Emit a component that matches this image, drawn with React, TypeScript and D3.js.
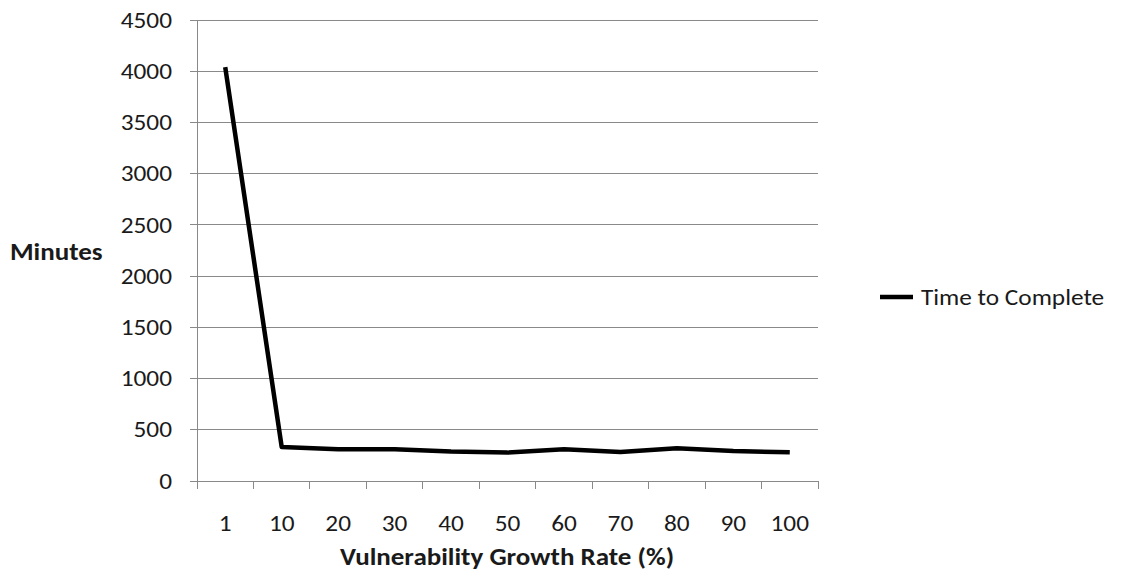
import React, { useEffect, useRef } from 'react'
import * as d3 from 'd3'

const categories = ['1', '10', '20', '30', '40', '50', '60', '70', '80', '90', '100']
const timeToComplete = [4040, 333, 310, 310, 287, 277, 310, 283, 320, 293, 280]
const yTicks = [0, 500, 1000, 1500, 2000, 2500, 3000, 3500, 4000, 4500]
const seriesName = 'Time to Complete'

export default function App() {
  const ref = useRef<SVGSVGElement>(null)

  useEffect(() => {
    const svg = d3.select(ref.current)
    svg.selectAll('*').remove()
    const font = 'Calibri, Carlito, "Open Sans", sans-serif'
    const left = 197, right = 818, top = 20, bottom = 481
    const sx = 1.15 // reference text is a bit wide

    const x = d3.scaleBand().domain(categories).range([left, right])
    const y = d3.scaleLinear().domain([0, 4500]).range([bottom, top])

    const label = (g: any, px: number, py: number, txt: string, anchor: string, size: number, bold = false) =>
      g.append('text')
        .attr('transform', `translate(${px},${py}) scale(${sx},1)`)
        .attr('dy', '0.35em')
        .attr('text-anchor', anchor).attr('font-family', font).attr('font-size', size)
        .attr('font-weight', bold ? 'bold' : 'normal').attr('fill', '#1a1a1a').text(txt)

    // gridlines
    svg.append('g').selectAll('line').data(yTicks).join('line')
      .attr('x1', left - 7).attr('x2', right)
      .attr('y1', d => y(d)).attr('y2', d => y(d))
      .attr('stroke', '#898989').attr('stroke-width', 1)
      .attr('shape-rendering', 'crispEdges')

    // y axis line
    svg.append('line').attr('x1', left).attr('x2', left).attr('y1', top).attr('y2', bottom)
      .attr('stroke', '#898989').attr('shape-rendering', 'crispEdges')

    // x tick marks
    const bounds = categories.map(c => x(c)!).concat([right])
    svg.append('g').selectAll('line').data(bounds).join('line')
      .attr('x1', d => d).attr('x2', d => d).attr('y1', bottom).attr('y2', bottom + 8)
      .attr('stroke', '#898989').attr('shape-rendering', 'crispEdges')

    const labels = svg.append('g')
    yTicks.forEach(t => label(labels, left - 25, y(t), String(t), 'end', 22))
    categories.forEach(c => label(labels, x(c)! + x.bandwidth() / 2, 523, c, 'middle', 22))

    // titles
    label(labels, 507, 557, 'Vulnerability Growth Rate (%)', 'middle', 23.5, true)
    label(labels, 10, 252, 'Minutes', 'start', 23.5, true)

    // series line
    const line = d3.line<number>()
      .x((_, i) => x(categories[i])! + x.bandwidth() / 2)
      .y(d => y(d))
    svg.append('path').attr('d', line(timeToComplete))
      .attr('fill', 'none').attr('stroke', '#000').attr('stroke-width', 4.5)
      .attr('stroke-linejoin', 'round')

    // legend
    svg.append('line').attr('x1', 880).attr('x2', 913).attr('y1', 297).attr('y2', 297)
      .attr('stroke', '#000').attr('stroke-width', 4.5)
    label(labels, 921, 297, seriesName, 'start', 22)
  }, [])

  return (
    <svg ref={ref} width={1124} height={573}
      style={{ position: 'absolute', left: 0, top: 0, background: '#fff' }} />
  )
}
